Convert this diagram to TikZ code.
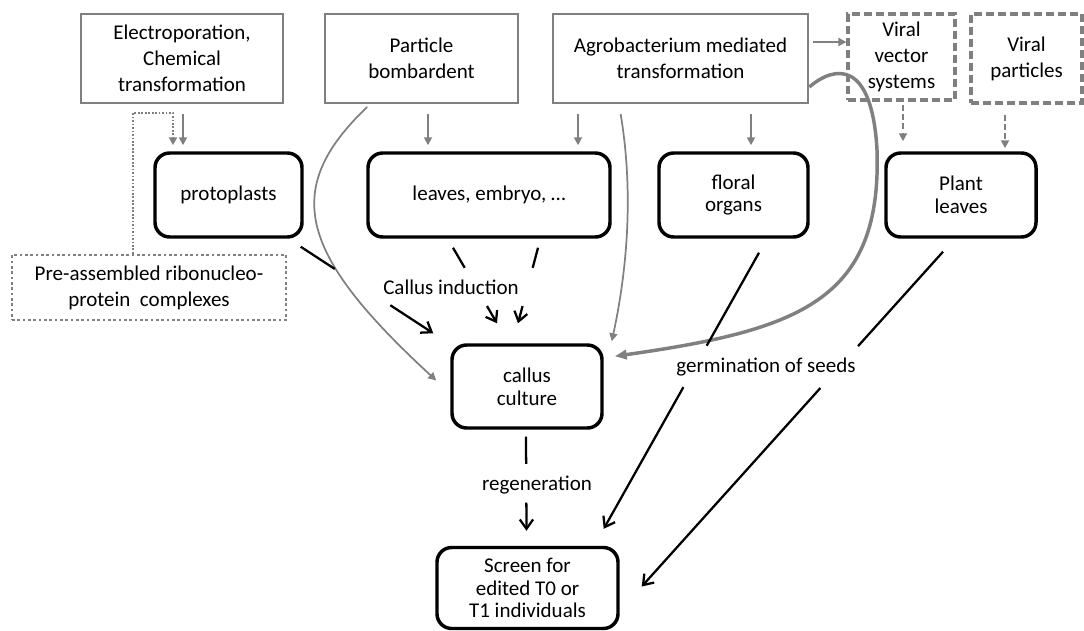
\documentclass[tikz,border=0pt]{standalone}
\usepackage{fontspec}
\setmainfont{Carlito}
\usetikzlibrary{arrows.meta,calc}
\definecolor{linegray}{RGB}{128,128,128}
\newcommand{\gaplink}[4]{\draw[blk] (#1) -- ($(#1)!#3!(#2)$); \draw[blk,-{Straight Barb[length=7pt,width=10pt]}] ($(#1)!#4!(#2)$) -- (#2);}

\begin{document}
\begin{tikzpicture}[x=0.75pt,y=-0.75pt,
  sz/.style 2 args={minimum width=#1*0.75pt,minimum height=#2*0.75pt},
  every node/.style={inner sep=0pt,align=center,font=\fontsize{15.75}{19.5}\selectfont},
  graybox/.style={draw=linegray,line width=2pt},
  dashbox/.style={draw=linegray,line width=2.4pt,dash pattern=on 6pt off 3pt},
  dotbox/.style={draw=linegray,line width=2pt,dash pattern=on 2pt off 2pt},
  roundbox/.style={draw=black,line width=2.6pt,rounded corners=11pt,font=\fontsize{15.75}{17}\selectfont},
  garrow/.style={draw=linegray,line width=1.3pt,-{Triangle[length=6pt,width=6pt]}},
  gdash/.style={garrow,line width=1.6pt,dash pattern=on 4.5pt off 2.5pt},
  blk/.style={draw=black,line width=1.7pt}]
\useasboundingbox (0,0) rectangle (1084,631);
% methods:
\node[graybox,sz={202}{89}] (electro) at (182,58.5) {Electroporation,\\Chemical\\transformation};
\node[graybox,sz={193}{89}] (particle) at (421.5,58.5) {Particle\\bombardent};
\node[graybox,sz={255}{89}] (agro) at (680.5,58.5) {Agrobacterium mediated\\transformation};
\node[dashbox,sz={107}{86}] (vector) at (901.5,57) {Viral\\vector\\systems};
\node[dashbox,sz={111}{89}] (virpart) at (1026.5,58.5) {Viral\\particles};
\node[dotbox,sz={274}{65}] (rnp) at (149,287.5) {Pre-assembled ribonucleo-\\protein\ \ complexes};
% material:
\node[roundbox,sz={147}{84}] (proto) at (228.5,195) {protoplasts};
\node[roundbox,sz={242}{84}] (leaves) at (489,195) {leaves, embryo, …};
\node[roundbox,sz={149}{84}] (floral) at (733.5,195) {floral\\organs};
\node[roundbox,sz={150}{84}] (plantleaves) at (961,195) {Plant\\leaves};
\node[roundbox,sz={150}{83}] (callus) at (527,386.5) {callus\\culture};
\node[roundbox,sz={181}{81}] (screen) at (527.5,588) {Screen for\\edited T0 or\\T1 individuals};
% labels:
\node (induction) at (451,287) {Callus induction};
\node (regen) at (537,485) {regeneration};
\node (germ) at (766,367) {germination of seeds};
% gray arrows:
\draw[garrow,shorten <=7.5pt,shorten >=4.5pt] (183,0 |- electro.south) -- (183,0 |- proto.north);
\draw[garrow,shorten <=7.5pt,shorten >=4.5pt] (428,0 |- particle.south) -- (428,0 |- leaves.north);
\draw[garrow,shorten <=7.5pt,shorten >=4.5pt] (578,0 |- agro.south) -- (578,0 |- leaves.north);
\draw[garrow,shorten <=7.5pt,shorten >=4.5pt] (751,0 |- agro.south) -- (751,0 |- floral.north);
\draw[garrow,shorten <=3pt] (agro.east |- 0,42) -- (vector.west |- 0,42);
\draw[gdash,shorten <=2.25pt,shorten >=7.5pt] (903,0 |- vector.south) -- (903,0 |- plantleaves.north);
\draw[gdash,shorten <=7.5pt,shorten >=2.25pt] (1005,0 |- virpart.south) -- (1005,0 |- plantleaves.north);
\draw[garrow,line width=1.5pt,dash pattern=on 1.3pt off 1.3pt,shorten >=4.5pt] (133,0 |- rnp.north) |- (173,113) -- (173,0 |- proto.north);
% gray curves:
\draw[garrow,shorten <=3pt] (370,0 |- particle.south) .. controls (280,190) and (300,255) .. ([shift={(-14,-6)}]callus.west);
\draw[garrow,shorten <=7.5pt] (619,0 |- agro.south) .. controls (635,200) and (625,280) .. ([shift={(8,-2)}]callus.north east);
\draw[linegray,line width=2.6pt,-{Triangle[length=9pt,width=7pt]}] (agro.east |- 0,87) .. controls (835,65) and (872,60) .. (877,150) .. controls (882,300) and (800,330) .. ([shift={(11,13)}]callus.north east);
% black links:
\coordinate (p1) at ([shift={(-3,8)}]proto.south east);
\coordinate (c1) at ([shift={(-17,-10)}]callus.north west);
\coordinate (p2) at ([shift={(-36,9)}]leaves.south);
\coordinate (c2) at ([shift={(-30,-20)}]callus.north);
\coordinate (p3) at ([shift={(49,9)}]leaves.south);
\coordinate (c3) at ([shift={(-9,-20)}]callus.north);
\coordinate (p4) at ([shift={(-1,7)}]callus.south);
\coordinate (c4) at ([shift={(-1,-15)}]screen.north);
\coordinate (p5) at ([shift={(25.5,14)}]floral.south);
\coordinate (c5) at ([shift={(-16,-17)}]screen.north east);
\coordinate (p6) at ([shift={(-18,13)}]plantleaves.south);
\coordinate (c6) at ([shift={(22,-1.5)}]screen.east);
\gaplink{p1}{c1}{0.257}{0.676}
\gaplink{p2}{c2}{0.266}{0.772}
\gaplink{p3}{c3}{0.266}{0.772}
\gaplink{p4}{c4}{0.289}{0.701}
\gaplink{p5}{c5}{0.337}{0.487}
\gaplink{p6}{c6}{0.282}{0.407}
\end{tikzpicture}
\end{document}
